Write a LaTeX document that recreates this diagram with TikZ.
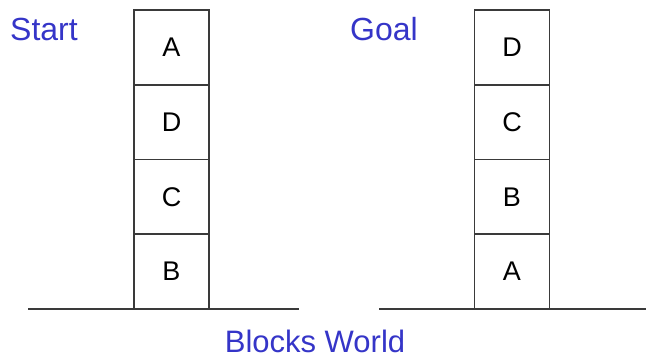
\documentclass[tikz,border=0pt]{standalone}
\usepackage{fontspec}
\setmainfont{Liberation Sans}
\definecolor{lblue}{HTML}{3535C8}
\definecolor{lineg}{HTML}{3A3A3A}
\begin{document}
\begin{tikzpicture}[x=1pt,y=-1pt,
  block/.style={draw=lineg,line width=1.8pt,minimum width=75pt,minimum height=74.75pt,inner sep=0pt,font=\fontsize{27}{30}\selectfont},
  title/.style={text=lblue,inner sep=0pt,font=\fontsize{32}{36}\selectfont},
  ground/.style={draw=lineg,line width=2.4pt}]
\useasboundingbox (0,0) rectangle (646,360);
% Start stack
\node[block] (sA) at (171.5,47.4) {A};
\node[block] (sD) at (171.5,122.1) {D};
\node[block] (sC) at (171.5,196.9) {C};
\node[block] (sB) at (171.5,271.6) {B};
% Goal stack
\node[block] (gD) at (512,47.4) {D};
\node[block] (gC) at (512,122.1) {C};
\node[block] (gB) at (512,196.9) {B};
\node[block] (gA) at (512,271.6) {A};
% ground lines
\coordinate (l1) at (28,309);
\coordinate (r1) at (299,309);
\coordinate (l2) at (379,309);
\coordinate (r2) at (646,309);
\draw[ground] (l1) -- (r1);
\draw[ground] (l2) -- (r2);
% labels
\node[title,anchor=base west] (start) at (10,40) {Start};
\node[title,anchor=base west] (goal) at (350,40) {Goal};
\node[title,anchor=base,font=\fontsize{31}{34}\selectfont] (bw) at (315,352) {Blocks World};
\end{tikzpicture}
\end{document}
